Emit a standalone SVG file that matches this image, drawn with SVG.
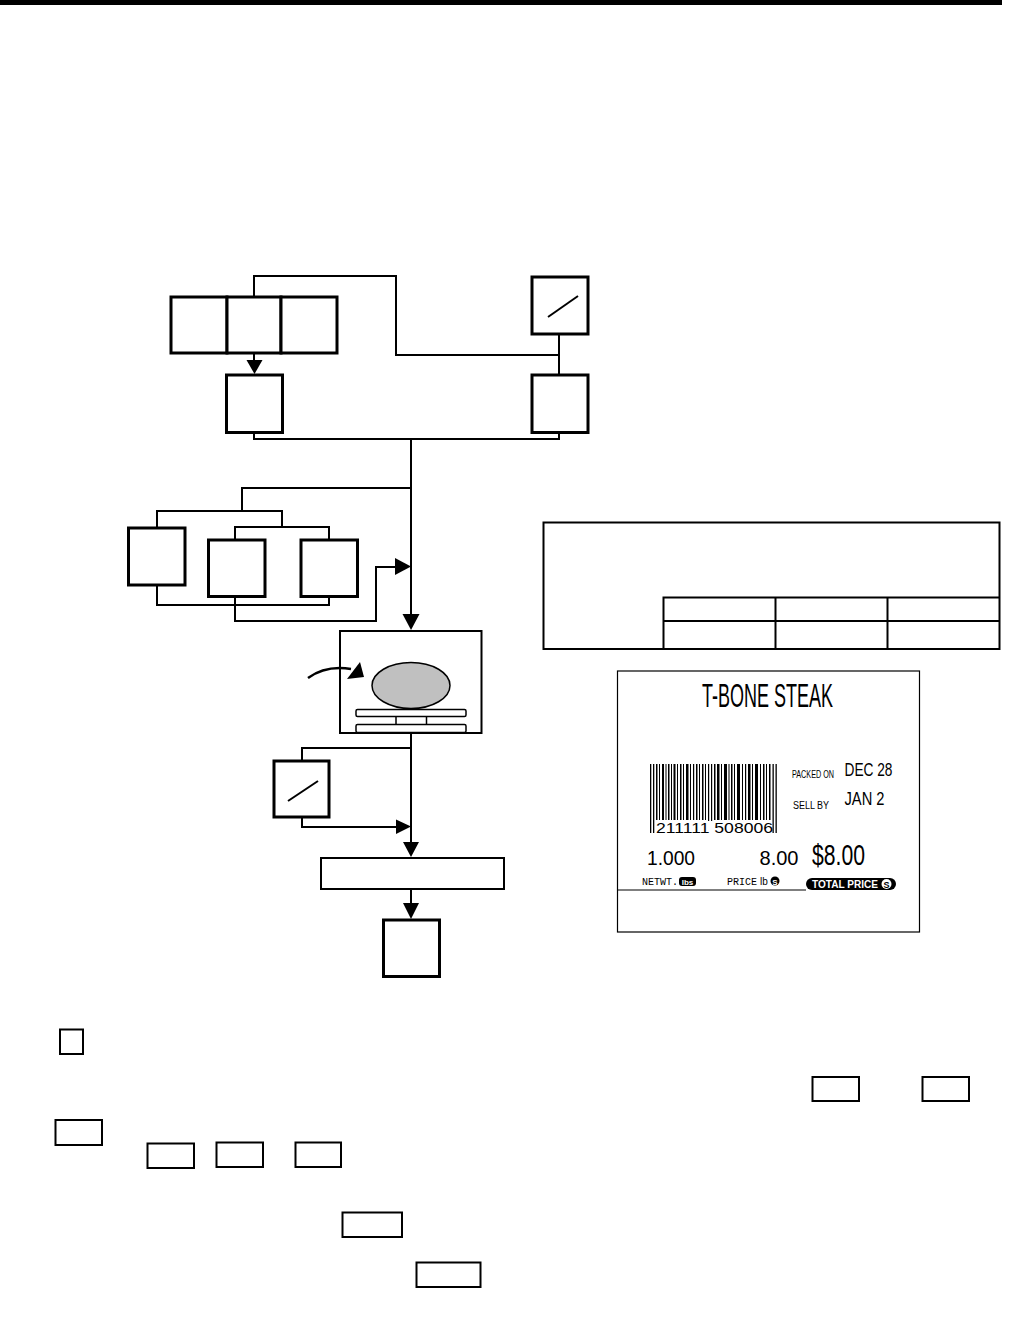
<svg xmlns="http://www.w3.org/2000/svg" width="1031" height="1317" viewBox="0 0 1031 1317">
<style>
.thick{fill:#fff;stroke:#000;stroke-width:3}
.med{fill:#fff;stroke:#000;stroke-width:2}
.thin{fill:none;stroke:#000;stroke-width:1.5}
.wire{fill:none;stroke:#000;stroke-width:2}
.key{fill:#fff;stroke:#000;stroke-width:2}
.cond{font-family:"Liberation Sans",Arial,sans-serif}
.arr{fill:#000}
</style>
<defs>
<marker id="ah" markerWidth="10" markerHeight="10" refX="9" refY="5" orient="auto" markerUnits="userSpaceOnUse"><path d="M0,0 L10,5 L0,10 Z" fill="#000"/></marker>
</defs>
<rect x="0" y="0" width="1002" height="5" fill="#000"/>

<g id="connectors">
  <polyline class="wire" points="254,297 254,276 396,276 396,355 559,355"/>
  <line class="wire" x1="559" y1="334" x2="559" y2="375"/>
  <line class="wire" x1="254" y1="353" x2="254" y2="362"/>
  <polygon class="arr" points="246.5,360 262.5,360 254.5,374"/>
  <polyline class="wire" points="254,433 254,439 559,439 559,433"/>
  <line class="wire" x1="411" y1="439" x2="411" y2="616"/>
  <polygon class="arr" points="402.5,614 419.5,614 411,630"/>
  <polyline class="wire" points="411,488 242,488 242,511"/>
  <polyline class="wire" points="157,528 157,511 282,511 282,527"/>
  <polyline class="wire" points="235,540 235,527 329,527 329,540"/>
  <polyline class="wire" points="157,585 157,605 329,605 329,597"/>
  <polyline class="wire" points="235,597 235,621 376,621 376,567 396,567"/>
  <polygon class="arr" points="395,558 411,566.5 395,575"/>
  <line class="wire" x1="411" y1="733" x2="411" y2="844"/>
  <polyline class="wire" points="411,748 302,748 302,762"/>
  <polyline class="wire" points="302,817 302,827 397,827"/>
  <polygon class="arr" points="396,819.5 411,826.5 396,834"/>
  <polygon class="arr" points="403,842 419,842 411,857"/>
  <line class="wire" x1="411" y1="889" x2="411" y2="905"/>
  <polygon class="arr" points="403,903 419,903 411,919"/>
</g>

<g id="key-row-top">
  <rect class="thick" x="171" y="297" width="56" height="56"/>
  <rect class="thick" x="227" y="297" width="54" height="56"/>
  <rect class="thick" x="281" y="297" width="56" height="56"/>
</g>
<g id="key-slash-top">
  <rect class="thick" x="532" y="277" width="56" height="57"/>
  <line x1="548" y1="317" x2="578" y2="296" stroke="#000" stroke-width="2"/>
</g>
<g id="key-left-2"><rect class="thick" x="226.5" y="375" width="56" height="57.5"/></g>
<g id="key-right-2"><rect class="thick" x="532" y="375" width="56" height="57.5"/></g>

<g id="key-a"><rect class="thick" x="128.5" y="528" width="56.5" height="57"/></g>
<g id="key-b"><rect class="thick" x="208.5" y="540" width="56.5" height="56.5"/></g>
<g id="key-c"><rect class="thick" x="301" y="540" width="56.5" height="56.5"/></g>

<g id="scale">
  <rect class="med" x="340" y="631" width="141.5" height="102"/>
  <ellipse cx="411" cy="685.5" rx="39" ry="23" fill="#c0c0c0" stroke="#000" stroke-width="1.5"/>
  <rect x="356" y="709.5" width="110" height="7" rx="1.5" fill="#fff" stroke="#000" stroke-width="1.5"/>
  <line x1="396" y1="716.5" x2="396" y2="724.5" stroke="#000" stroke-width="1.5"/>
  <line x1="426.5" y1="716.5" x2="426.5" y2="724.5" stroke="#000" stroke-width="1.5"/>
  <rect x="356" y="724.5" width="110" height="8" rx="1.5" fill="#fff" stroke="#000" stroke-width="1.5"/>
  <path d="M308,678 Q326,665 351,669" fill="none" stroke="#000" stroke-width="2.5"/>
  <polygon points="347,679 360,662 364,677" fill="#000"/>
</g>

<g id="key-slash-bottom">
  <rect class="thick" x="274" y="761" width="55" height="56"/>
  <line x1="288" y1="801" x2="318" y2="781" stroke="#000" stroke-width="2"/>
</g>
<g id="wide-box"><rect class="med" x="321" y="858" width="183" height="31"/></g>
<g id="key-final"><rect class="thick" x="383.5" y="920" width="56" height="56.5"/></g>

<g id="table">
  <rect class="med" x="543.5" y="522.5" width="456" height="126.5"/>
  <polyline class="wire" points="663.5,649 663.5,597.5 999.5,597.5"/>
  <line class="wire" x1="663.5" y1="621" x2="999.5" y2="621"/>
  <line class="wire" x1="775.5" y1="597.5" x2="775.5" y2="649"/>
  <line class="wire" x1="887.5" y1="597.5" x2="887.5" y2="649"/>
</g>

<g id="label">
  <rect x="617.5" y="671" width="302" height="261" fill="#fff" stroke="#000" stroke-width="1.2"/>
  <line x1="617.5" y1="890" x2="806" y2="890" stroke="#000" stroke-width="1.2"/>
  <text x="702" y="706.5" class="cond" font-size="33" textLength="131" lengthAdjust="spacingAndGlyphs">T-BONE STEAK</text>
  <g fill="#000">
    <rect x="650" y="764" width="1.3" height="69"/>
    <rect x="653" y="764" width="1.3" height="69"/>
    <rect x="656" y="764" width="1.5" height="56"/>
    <rect x="659" y="764" width="1" height="56"/>
    <rect x="662" y="764" width="2" height="56"/>
    <rect x="665.5" y="764" width="1" height="56"/>
    <rect x="668" y="764" width="1.5" height="56"/>
    <rect x="671" y="764" width="1" height="56"/>
    <rect x="673.5" y="764" width="2" height="56"/>
    <rect x="677" y="764" width="1" height="56"/>
    <rect x="680" y="764" width="1.5" height="56"/>
    <rect x="683" y="764" width="1" height="56"/>
    <rect x="686" y="764" width="2.5" height="56"/>
    <rect x="690" y="764" width="1" height="56"/>
    <rect x="693" y="764" width="1.2" height="56"/>
    <rect x="696" y="764" width="1.5" height="56"/>
    <rect x="699" y="764" width="1" height="56"/>
    <rect x="702" y="764" width="1.5" height="56"/>
    <rect x="705" y="764" width="1" height="56"/>
    <rect x="708" y="764" width="1.2" height="69"/>
    <rect x="711" y="764" width="1.2" height="69"/>
    <rect x="714" y="764" width="1.5" height="56"/>
    <rect x="717" y="764" width="2.5" height="56"/>
    <rect x="721" y="764" width="1" height="56"/>
    <rect x="724" y="764" width="3" height="56"/>
    <rect x="728.5" y="764" width="1" height="56"/>
    <rect x="731" y="764" width="1.5" height="56"/>
    <rect x="734" y="764" width="1" height="56"/>
    <rect x="737" y="764" width="3" height="56"/>
    <rect x="742" y="764" width="1" height="56"/>
    <rect x="745" y="764" width="1.2" height="56"/>
    <rect x="748" y="764" width="2.5" height="56"/>
    <rect x="752" y="764" width="1" height="56"/>
    <rect x="755" y="764" width="3" height="56"/>
    <rect x="760" y="764" width="1" height="56"/>
    <rect x="763" y="764" width="1.5" height="56"/>
    <rect x="766" y="764" width="1" height="56"/>
    <rect x="769" y="764" width="1.5" height="56"/>
    <rect x="772.5" y="764" width="1.3" height="69"/>
    <rect x="775.5" y="764" width="1.3" height="69"/>
  </g>
  <rect x="655" y="821" width="117" height="13" fill="#fff"/>
  <text x="656" y="833" class="cond" font-size="15" textLength="117" lengthAdjust="spacingAndGlyphs">211111 508006</text>
  <text x="792" y="777.5" class="cond" font-size="10" textLength="42" lengthAdjust="spacingAndGlyphs">PACKED ON</text>
  <text x="844.5" y="776" class="cond" font-size="19" textLength="48" lengthAdjust="spacingAndGlyphs">DEC 28</text>
  <text x="793" y="809" class="cond" font-size="10" textLength="36" lengthAdjust="spacingAndGlyphs">SELL  BY</text>
  <text x="844.5" y="805" class="cond" font-size="19" textLength="40" lengthAdjust="spacingAndGlyphs">JAN 2</text>
  <text x="647" y="865" class="cond" font-size="20" textLength="48" lengthAdjust="spacingAndGlyphs">1.000</text>
  <text x="759.5" y="865" class="cond" font-size="20" textLength="39" lengthAdjust="spacingAndGlyphs">8.00</text>
  <text x="812" y="865" class="cond" font-size="30" textLength="53" lengthAdjust="spacingAndGlyphs">$8.00</text>
  <text x="642" y="885" font-family="'Liberation Mono',monospace" font-size="11" textLength="36" lengthAdjust="spacingAndGlyphs">NETWT.</text>
  <rect x="679" y="877" width="17" height="9" rx="3" fill="#000"/>
  <text x="687.5" y="884.5" font-family="'Liberation Sans',sans-serif" font-size="8" font-weight="bold" fill="#fff" text-anchor="middle">lbs</text>
  <text x="727" y="885" font-family="'Liberation Mono',monospace" font-size="11" textLength="30" lengthAdjust="spacingAndGlyphs">PRICE</text>
  <text x="760" y="885" class="cond" font-size="10">lb</text>
  <circle cx="775" cy="881" r="4.5" fill="#000"/>
  <text x="775" y="884.5" font-family="'Liberation Sans',sans-serif" font-size="8" font-weight="bold" fill="#fff" text-anchor="middle">S</text>
  <rect x="806" y="878" width="90" height="12" rx="6" fill="#000"/>
  <text x="812" y="888" font-family="'Liberation Sans',sans-serif" font-size="10.5" font-weight="bold" fill="#fff" textLength="66" lengthAdjust="spacingAndGlyphs">TOTAL PRICE</text>
  <circle cx="886.5" cy="884" r="5" fill="#fff"/>
  <text x="886.5" y="887.5" font-family="'Liberation Sans',sans-serif" font-size="9" font-weight="bold" fill="#000" text-anchor="middle">S</text>
</g>

<g id="small-keys">
  <rect class="key" x="60" y="1029.5" width="23" height="24.5"/>
  <rect class="key" x="812.5" y="1077" width="46.5" height="24"/>
  <rect class="key" x="922.5" y="1077" width="46.5" height="24"/>
  <rect class="key" x="55.5" y="1120" width="46.5" height="25"/>
  <rect class="key" x="147.5" y="1143.5" width="46.5" height="24.5"/>
  <rect class="key" x="216.5" y="1142.5" width="46.5" height="24.5"/>
  <rect class="key" x="295.5" y="1142.5" width="45.5" height="24.5"/>
  <rect class="key" x="342.5" y="1212.5" width="59.5" height="24.5"/>
  <rect class="key" x="416.5" y="1262.5" width="64" height="24.5"/>
</g>
</svg>
